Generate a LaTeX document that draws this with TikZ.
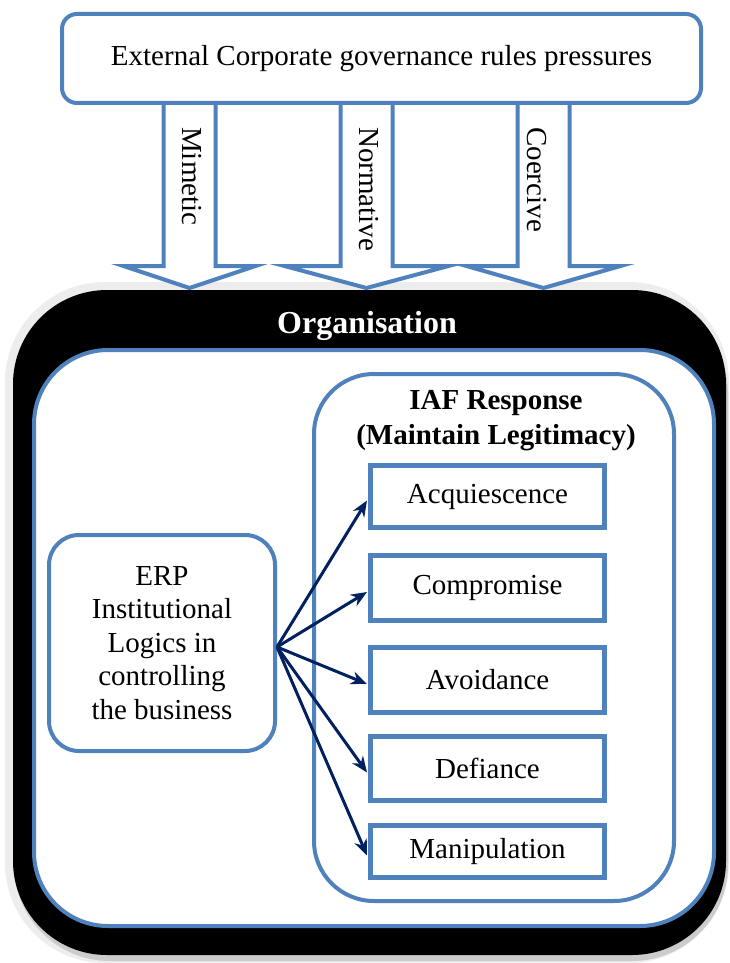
\documentclass[tikz,border=0pt]{standalone}
\usepackage{fontspec}
\setmainfont{Liberation Serif}
\usetikzlibrary{arrows.meta,calc}
\definecolor{accblue}{HTML}{4F81BD}
\definecolor{navyblue}{HTML}{002060}
\begin{document}
\begin{tikzpicture}[x=1pt,y=-1pt,
  bluebox/.style={draw=accblue, line width=4pt, fill=white, inner sep=0pt},
  respbox/.style={draw=accblue, line width=5pt, fill=white, inner sep=0pt, minimum width=234pt,
    font=\fontsize{29}{35}\selectfont},
  txt/.style={font=\fontsize{29}{35}\selectfont, inner sep=0pt},
  conn/.style={draw=navyblue, line width=3pt, -{Stealth[length=16pt,width=13pt]}},
  blockarrow/.style={draw=accblue, line width=4pt, fill=white, line join=miter},
]
\useasboundingbox (0,0) rectangle (729,963);
% halo and shadow of the organisation box
\fill[black!7, rounded corners=100pt] (5,282) rectangle (729,963);
\fill[black!20, rounded corners=96pt] (14,298) rectangle (728,961);
% organisation box
\node[fill=black, rounded corners=94pt, minimum width=713pt, minimum height=665pt, inner sep=0pt] (org) at (369.5,622.5) {};
\node[font=\bfseries\fontsize{32}{38}\selectfont, text=white, anchor=base, inner sep=0pt] (orgt) at (367,333) {Organisation};
% inner white box
\node[bluebox, rounded corners=74pt, minimum width=680pt, minimum height=576pt] (inner) at (374,638) {};
% IAF box
\node[bluebox, rounded corners=60pt, minimum width=360pt, minimum height=527pt] (iaf) at (494,637.5) {};
\node[txt, font=\bfseries\fontsize{29}{35}\selectfont, align=center] (iaft) at (496,421) {IAF Response\\(Maintain Legitimacy)};
% response boxes
\node[respbox, minimum height=62pt] (acq) at (487.5,496.5) {Acquiescence};
\node[respbox, minimum height=65pt] (com) at (487.5,588) {Compromise};
\node[respbox, minimum height=65pt] (avo) at (487.5,680) {Avoidance};
\node[respbox, minimum height=64pt] (def) at (487.5,768.5) {Defiance};
\node[respbox, minimum height=52pt] (man) at (487.5,851.5) {Manipulation};
% ERP box
\node[bluebox, rounded corners=30pt, minimum width=226pt, minimum height=216pt, align=center,
  font=\fontsize{29}{33.5}\selectfont] (erp) at (162,643) {ERP\\Institutional\\Logics in\\controlling\\the business};
% connectors
\coordinate (src) at ($(erp.east)+(0,4)$);
\foreach \t in {acq,com,avo,def,man}{
  \draw[conn] (src) -- ($(\t.west)+(-1,4)$);
}
% block arrows
\foreach \cx/\hw in {189.5/66, 366.5/82, 543.5/77}{
  \draw[blockarrow] (\cx-26,98) -- (\cx-26,266) -- (\cx-\hw,266) -- (\cx,288) -- (\cx+\hw,266) -- (\cx+26,266) -- (\cx+26,98);
}
\node[txt, rotate=-90, anchor=west] (lmim) at (192,127) {Mimetic};
\node[txt, rotate=-90, anchor=west] (lnor) at (369,127) {Normative};
\node[txt, rotate=-90, anchor=west] (lcoe) at (537,127) {Coercive};
% top box
\node[bluebox, rounded corners=15pt, minimum width=639pt, minimum height=89pt,
  font=\fontsize{29}{35}\selectfont] (ext) at (381.5,58.5) {External Corporate governance rules pressures};
\end{tikzpicture}
\end{document}
